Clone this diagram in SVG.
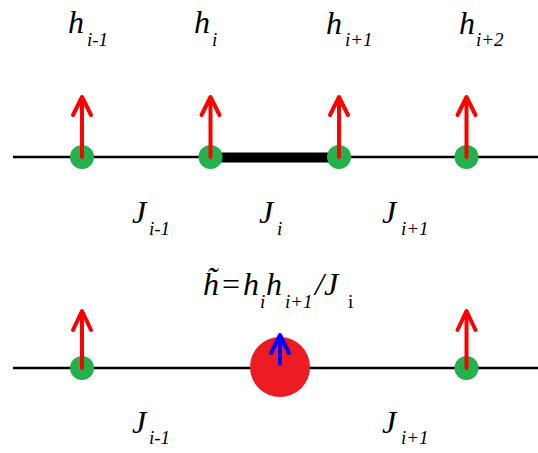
<svg xmlns="http://www.w3.org/2000/svg" width="538" height="453" viewBox="0 0 538 453">
<g id="connectors">
<line x1="13" y1="157" x2="538" y2="157" stroke="#000" stroke-width="2.5"/>
<line x1="216" y1="157.5" x2="334" y2="157.5" stroke="#000" stroke-width="10"/>
<line x1="13" y1="368" x2="538" y2="368" stroke="#000" stroke-width="2.5"/>
</g>
<g id="site-top-1"><circle cx="82" cy="157" r="12" fill="#22b14c"/><line x1="82" y1="157" x2="82" y2="98" stroke="#ff0000" stroke-width="4" stroke-linecap="round"/><polyline points="73,115 82,97 91,115" fill="none" stroke="#ff0000" stroke-width="4" stroke-linecap="round" stroke-linejoin="round"/></g>
<g id="site-top-2"><circle cx="210.5" cy="157" r="12" fill="#22b14c"/><line x1="210.5" y1="157" x2="210.5" y2="98" stroke="#ff0000" stroke-width="4" stroke-linecap="round"/><polyline points="201.5,115 210.5,97 219.5,115" fill="none" stroke="#ff0000" stroke-width="4" stroke-linecap="round" stroke-linejoin="round"/></g>
<g id="site-top-3"><circle cx="339" cy="157" r="12" fill="#22b14c"/><line x1="339" y1="157" x2="339" y2="98" stroke="#ff0000" stroke-width="4" stroke-linecap="round"/><polyline points="330,115 339,97 348,115" fill="none" stroke="#ff0000" stroke-width="4" stroke-linecap="round" stroke-linejoin="round"/></g>
<g id="site-top-4"><circle cx="466.5" cy="157" r="12" fill="#22b14c"/><line x1="466.5" y1="157" x2="466.5" y2="98" stroke="#ff0000" stroke-width="4" stroke-linecap="round"/><polyline points="457.5,115 466.5,97 475.5,115" fill="none" stroke="#ff0000" stroke-width="4" stroke-linecap="round" stroke-linejoin="round"/></g>
<g id="site-bot-1"><circle cx="82" cy="368" r="12" fill="#22b14c"/><line x1="82" y1="368" x2="82" y2="312" stroke="#ff0000" stroke-width="4" stroke-linecap="round"/><polyline points="73,330 82,311 91,330" fill="none" stroke="#ff0000" stroke-width="4" stroke-linecap="round" stroke-linejoin="round"/></g>
<g id="site-bot-merged"><circle cx="280" cy="367" r="30" fill="#ed1c24"/><line x1="280" y1="364" x2="280" y2="336" stroke="#0000ff" stroke-width="4" stroke-linecap="round"/><polyline points="271,353 280,335 289,353" fill="none" stroke="#0000ff" stroke-width="4" stroke-linecap="round" stroke-linejoin="round"/></g>
<g id="site-bot-2"><circle cx="466.5" cy="368" r="12" fill="#22b14c"/><line x1="466.5" y1="368" x2="466.5" y2="312" stroke="#ff0000" stroke-width="4" stroke-linecap="round"/><polyline points="457.5,330 466.5,311 475.5,330" fill="none" stroke="#ff0000" stroke-width="4" stroke-linecap="round" stroke-linejoin="round"/></g>
<g id="labels">
<text x="68" y="33" font-family="Liberation Serif" font-style="italic" font-size="32">h</text>
<text x="194" y="33" font-family="Liberation Serif" font-style="italic" font-size="32">h</text>
<text x="326" y="34" font-family="Liberation Serif" font-style="italic" font-size="32">h</text>
<text x="459" y="34" font-family="Liberation Serif" font-style="italic" font-size="32">h</text>
<text x="132" y="223" font-family="Liberation Serif" font-style="italic" font-size="32">J</text>
<text x="259" y="223" font-family="Liberation Serif" font-style="italic" font-size="32">J</text>
<text x="382" y="223" font-family="Liberation Serif" font-style="italic" font-size="32">J</text>
<text x="132" y="433" font-family="Liberation Serif" font-style="italic" font-size="32">J</text>
<text x="382" y="433" font-family="Liberation Serif" font-style="italic" font-size="32">J</text>
<text x="203" y="295" font-family="Liberation Serif" font-style="italic" font-size="32">h̃</text>
<text x="222" y="295" font-family="Liberation Serif" font-size="32">=</text>
<text x="243" y="295" font-family="Liberation Serif" font-style="italic" font-size="32">h</text>
<text x="266" y="295" font-family="Liberation Serif" font-style="italic" font-size="32">h</text>
<text x="315" y="295" font-family="Liberation Serif" font-style="italic" font-size="32">/J</text>
<text x="87" y="46" font-family="Liberation Serif" font-style="italic" font-size="19">i-1</text>
<text x="212" y="46" font-family="Liberation Serif" font-style="italic" font-size="19">i</text>
<text x="345" y="46" font-family="Liberation Serif" font-style="italic" font-size="19">i+1</text>
<text x="476" y="46" font-family="Liberation Serif" font-style="italic" font-size="19">i+2</text>
<text x="149" y="235" font-family="Liberation Serif" font-style="italic" font-size="19">i-1</text>
<text x="277" y="235" font-family="Liberation Serif" font-style="italic" font-size="19">i</text>
<text x="401" y="235" font-family="Liberation Serif" font-style="italic" font-size="19">i+1</text>
<text x="149" y="444" font-family="Liberation Serif" font-style="italic" font-size="19">i-1</text>
<text x="401" y="444" font-family="Liberation Serif" font-style="italic" font-size="19">i+1</text>
<text x="260" y="308" font-family="Liberation Serif" font-style="italic" font-size="19">i</text>
<text x="285" y="308" font-family="Liberation Serif" font-style="italic" font-size="19">i+1</text>
<text x="348" y="308" font-family="Liberation Serif" font-size="19">i</text>
</g>
</svg>
